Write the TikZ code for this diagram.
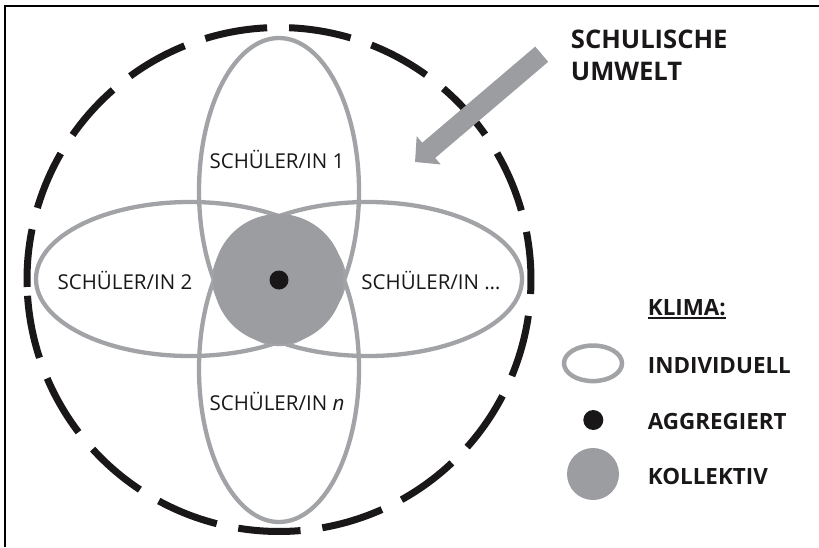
\documentclass[tikz,border=0pt]{standalone}
\usepackage{fontspec}
\setmainfont{Open Sans}
\usetikzlibrary{arrows.meta}
\definecolor{ellgray}{HTML}{A2A3A6}
\definecolor{fillgray}{HTML}{9C9DA1}
\definecolor{arrowgray}{HTML}{9C9DA1}
\definecolor{inkblack}{HTML}{1A1718}
\begin{document}
\begin{tikzpicture}[x=1pt,y=-1pt,
  student/.style={draw=ellgray, line width=4.3pt},
  lbl/.style={font=\fontsize{20.5}{24}\selectfont, text=inkblack, inner sep=0pt, anchor=base},
  boldlbl/.style={font=\fontsize{25.6}{30}\selectfont\bfseries, text=inkblack, inner sep=0pt, anchor=base west},
  legendlbl/.style={font=\fontsize{22.4}{27}\selectfont\bfseries, text=inkblack, inner sep=0pt, anchor=base west},
  envdash/.style={draw=inkblack, line width=7pt},
  bigarrow/.style={draw=arrowgray, line width=20pt, -{Triangle[width=36pt,length=18pt]}},
  frameline/.style={draw=black, line width=1.8pt},
]
\useasboundingbox (0,0) rectangle (819,547);
% frame (cropped at right and bottom)
\coordinate (fTR) at (819,6);
\coordinate (fTL) at (5,6);
\coordinate (fBL) at (5,547);
\draw[frameline] (fTR) -- (fTL) -- (fBL);

% school environment ring (dashed circle)
\coordinate (ctr) at (279,279.5);
\foreach \a/\b in {178.3/191.5, 196.5/210, 215/228.8, 233.8/248, 253/267.3,
                   272.3/286.5, 291.5/305.7, 310.7/324.9, 329.9/344.1, 349.1/363.3,
                   368.3/382.5, 387.5/401.7, 406.7/420.9, 425.9/440.1, 445.1/459.3,
                   464.3/478.5, 483.5/497.7, 502.7/516.9, 521.9/536.3}
  \draw[envdash] (ctr) ++(\a:252) arc[start angle=\a, end angle=\b, radius=252];

% individual ellipses
\draw[student] (279,191) ellipse[x radius=80, y radius=153];
\draw[student] (279,369) ellipse[x radius=80, y radius=153];
\draw[student] (190,279) ellipse[x radius=154, y radius=77];
\draw[student] (368,279) ellipse[x radius=154, y radius=77];

% collective climate
\fill[fillgray] (278.5,279) circle[radius=65];

% aggregated dot
\fill[inkblack] (279,280) circle[radius=9.5];

% labels
\node[lbl] (s1) at (277,168.3) {SCHÜLER/IN 1};
\node[lbl] (s2) at (125,289) {SCHÜLER/IN 2};
\node[lbl] (s3) at (431,289) {SCHÜLER/IN …};
\node[lbl] (sn) at (277,410.7) {SCHÜLER/IN \textit{n}};

% arrow
\coordinate (atail) at (541.7,54.2);
\coordinate (atip) at (415,162);
\draw[bigarrow] (atail) -- (atip);

\node[boldlbl] (su1) at (570.7,48.3) {SCHULISCHE};
\node[boldlbl] (su2) at (570.7,80) {UMWELT};

% legend
\node[legendlbl] (klima) at (647.7,315) {KLIMA:};
\draw[inkblack, line width=1.6pt] ([yshift=-3.2pt]klima.base west) -- ([yshift=-3.2pt]klima.base east);
\draw[student, line width=4.5pt] (593,363.3) ellipse[x radius=29, y radius=17.8];
\fill[inkblack] (593.3,420) circle[radius=10];
\fill[fillgray] (593,474) circle[radius=26];
\node[legendlbl] (ind) at (647.7,373.3) {INDIVIDUELL};
\node[legendlbl] (agg) at (647.7,429.3) {AGGREGIERT};
\node[legendlbl] (kol) at (647.7,484.3) {KOLLEKTIV};
\end{tikzpicture}
\end{document}
